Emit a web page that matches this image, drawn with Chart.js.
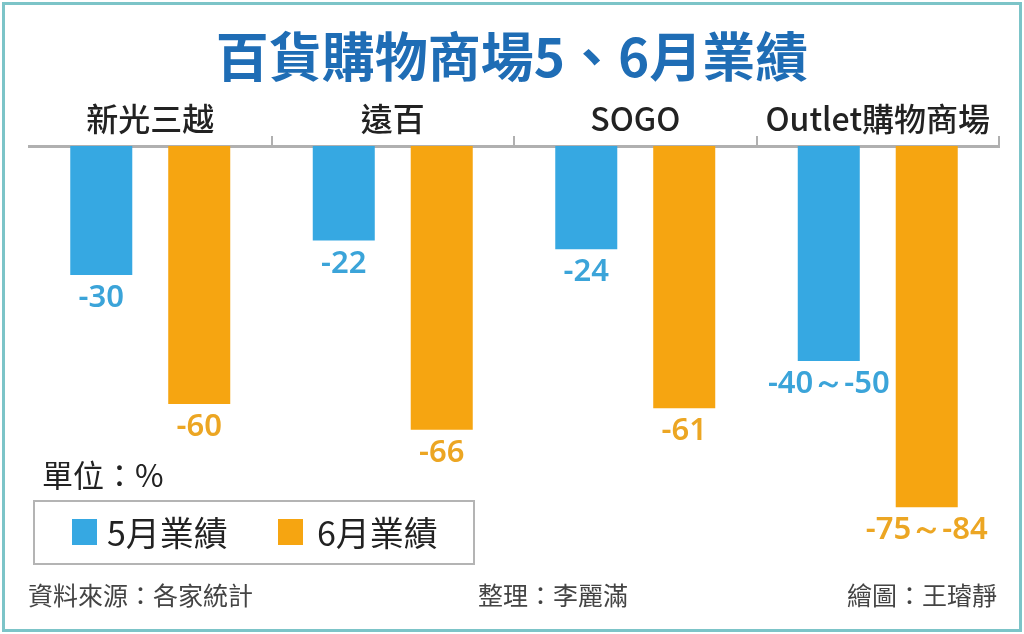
<!DOCTYPE html>
<html>
<head>
<meta charset="utf-8">
<script src="https://cdn.jsdelivr.net/npm/chart.js@4"></script>
<style>
    body { margin: 0; background: #fff; }
    #wrap { position: relative; width: 1024px; height: 634px; overflow: hidden; background: #fff;
            font-family: "Noto Sans CJK TC", "Noto Sans", sans-serif; }
    #frame { position: absolute; left: 2px; top: 2px; width: 1014px; height: 624px; border: 3px solid #7cc4c8; }
    canvas { position: absolute; left: 0; top: 0; }
    .txt { position: absolute; line-height: 1; white-space: nowrap; }
    #title { left: 0; width: 1024px; top: 28px; text-align: center; font-size: 53px; font-weight: 700; color: #1f6db5; }
    #unit { left: 42px; top: 458px; font-size: 31px; color: #222; }
    #legend { position: absolute; left: 33px; top: 500px; width: 438px; height: 61px; border: 2px solid #b4b4b4; }
    .sw { position: absolute; top: 17px; width: 25px; height: 26px; }
    .lt { position: absolute; top: 13px; font-size: 34px; color: #222; line-height: 1; }
    .foot { top: 582px; font-size: 25px; color: #444; }
</style>
</head>
<body>
<div id="wrap">
    <canvas id="chart" width="1024" height="634"></canvas>
    <div id="frame"></div>
    <div class="txt" id="title">百貨購物商場5、6月業績</div>
    <div class="txt" id="unit">單位：%</div>
    <div id="legend">
        <div class="sw" id="sw1" style="left:37px"></div>
        <div class="lt" id="lt1" style="left:72px"></div>
        <div class="sw" id="sw2" style="left:243px"></div>
        <div class="lt" id="lt2" style="left:282px"></div>
    </div>
    <div class="txt foot" style="left:28px">資料來源：各家統計</div>
    <div class="txt foot" style="left:478px">整理：李麗滿</div>
    <div class="txt foot" style="right:27px">繪圖：王璿靜</div>
</div>
<script>
// categories and values (bars go to the low end of a range)
var stores = ["新光三越", "遠百", "SOGO", "Outlet購物商場"];
var seriesNames = ["5月業績", "6月業績"];
var mayValues = [-30, -22, -24, -50];
var juneValues = [-60, -66, -61, -84];
var mayLabels = ["-30", "-22", "-24", "-40～-50"];
var juneLabels = ["-60", "-66", "-61", "-75～-84"];

var blue = "#36a8e2";
var orange = "#f6a511";
var blueText = "#3ba4d9";
var orangeText = "#eca623";

document.getElementById("sw1").style.background = blue;
document.getElementById("sw2").style.background = orange;
document.getElementById("lt1").textContent = seriesNames[0];
document.getElementById("lt2").textContent = seriesNames[1];

// Draws the value text under each bar
const valueLabels = {
    id: 'valueLabels',
    afterDatasetsDraw: (chart, args, options) => {
        var { ctx } = chart;
        ctx.save();
        ctx.font = "600 31px 'Noto Sans', sans-serif";
        ctx.textAlign = "center";
        ctx.textBaseline = "alphabetic";
        chart.data.datasets.forEach((ds, i) => {
            var meta = chart.getDatasetMeta(i);
            ctx.fillStyle = ds.textColor;
            meta.data.forEach((bar, j) => {
                ctx.fillText(ds.labels[j], bar.x, bar.y + 32);
            });
        });
        ctx.restore();
    }
};

new Chart(document.getElementById("chart"), {
    type: 'bar',
    data: {
        labels: stores,
        datasets: [{
            label: seriesNames[0],
            data: mayValues,
            labels: mayLabels,
            textColor: blueText,
            backgroundColor: blue
        }, {
            label: seriesNames[1],
            data: juneValues,
            labels: juneLabels,
            textColor: orangeText,
            backgroundColor: orange
        }]
    },
    options: {
        responsive: false,
        animation: false,
        devicePixelRatio: 1,
        categoryPercentage: 0.808,
        barPercentage: 0.633,
        layout: { padding: { left: 29, right: 25, top: 102, bottom: 58 } },
        plugins: {
            legend: { display: false },
            tooltip: { enabled: false }
        },
        scales: {
            x: {
                position: 'top',
                afterFit: scale => { scale.height = 44; },
                grid: {
                    drawOnChartArea: false,
                    drawTicks: true,
                    tickLength: 10,
                    lineWidth: 2,
                    color: c => (c.index === 0 || c.index === 4) ? 'rgba(0,0,0,0)' : '#b0b0b0'
                },
                border: { display: true, color: '#b0b0b0', width: 3 },
                ticks: {
                    padding: -2,
                    color: '#222',
                    font: { family: "'Noto Sans CJK TC', sans-serif", size: 32, weight: 500 }
                }
            },
            y: {
                display: false,
                min: -100,
                max: 0
            }
        }
    },
    plugins: [valueLabels]
});
</script>
</body>
</html>
